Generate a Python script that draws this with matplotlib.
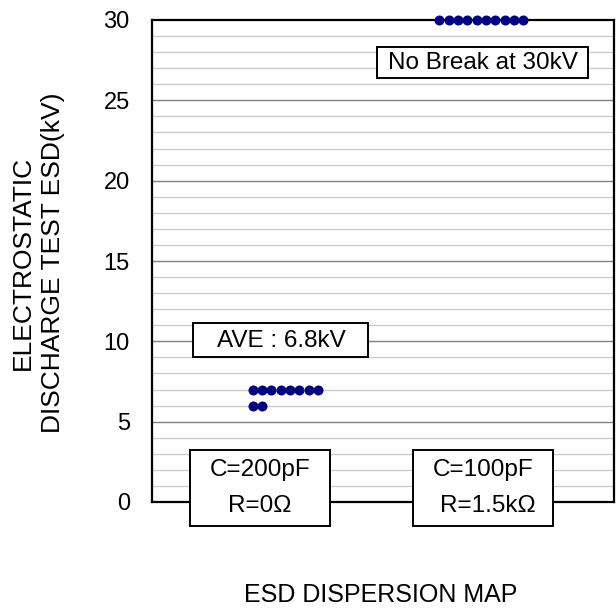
import matplotlib
matplotlib.use("Agg")
import matplotlib.pyplot as plt
from matplotlib.patches import Rectangle
from collections import Counter

plt.rcParams['font.family'] = ['Liberation Sans', 'DejaVu Sans']

# ---- data ----
esd_200pF = [7, 7, 7, 7, 7, 7, 7, 7, 6, 6]       # kV, C=200pF R=0
esd_100pF = [30, 30, 30, 30, 30, 30, 30, 30, 30, 30]  # kV, C=100pF R=1.5k (no break)
y_ticks = [0, 5, 10, 15, 20, 25, 30]
ave_label = "AVE : 6.8kV"
nobreak_label = "No Break at 30kV"
cond_labels = [("C=200pF", "R=0Ω"), ("C=100pF", "R=1.5kΩ")]
ylabel = "ELECTROSTATIC\nDISCHARGE TEST ESD(kV)"
title = "ESD DISPERSION MAP"

W, H = 616, 609
fig = plt.figure(figsize=(W / 100, H / 100), dpi=100)

def fx(px):
    return px / W

def fy(py):
    return 1 - py / H

ax = fig.add_axes([fx(152), fy(502), fx(614) - fx(152), fy(20) - fy(502)])
ax.set_xlim(0, 49.5)
ax.set_ylim(0, 30)

# grid
for v in range(0, 31):
    if v in (0, 30):
        continue
    if v % 5 == 0:
        ax.axhline(v, color='#808080', lw=1.0, zorder=1)
    else:
        ax.axhline(v, color='#cccccc', lw=1.0, zorder=1)

for s in ax.spines.values():
    s.set_color('black')
    s.set_linewidth(1.6)

ax.set_yticks(y_ticks)
ax.set_xticks([])
ax.tick_params(axis='y', length=0, pad=16, labelsize=17)

# dots: stack horizontally for repeated values
def dot_positions(values, start):
    xs, ys = [], []
    counts = Counter()
    for v in sorted(values, reverse=True):
        xs.append(start + counts[v])
        ys.append(v)
        counts[v] += 1
    return xs, ys

for vals, start in [(esd_200pF, 10.8), (esd_100pF, 30.8)]:
    xs, ys = dot_positions(vals, start)
    ax.plot(xs, ys, 'o', color='#000080', markersize=7.2, markeredgewidth=0,
            zorder=5, clip_on=False)

# boxes
def box(x0, y0, x1, y1):
    r = Rectangle((fx(x0), fy(y1)), fx(x1) - fx(x0), fy(y0) - fy(y1),
                  transform=fig.transFigure, facecolor='white',
                  edgecolor='black', lw=1.4, zorder=6)
    fig.add_artist(r)

FS = 17.5
box(193, 323, 368, 357)
fig.text(fx(281), fy(341), ave_label, ha='center', va='center', fontsize=FS, zorder=7)

box(377, 47, 588, 78)
fig.text(fx(483), fy(63), nobreak_label, ha='center', va='center', fontsize=FS, zorder=7)

box(190, 450, 330, 526)
fig.text(fx(260), fy(470), cond_labels[0][0], ha='center', va='center', fontsize=FS, zorder=7)
fig.text(fx(260), fy(506), cond_labels[0][1], ha='center', va='center', fontsize=FS, zorder=7)

box(413, 450, 553, 526)
fig.text(fx(483), fy(470), cond_labels[1][0], ha='center', va='center', fontsize=FS, zorder=7)
fig.text(fx(488), fy(506), cond_labels[1][1], ha='center', va='center', fontsize=FS, zorder=7)

# labels
fig.text(fx(38), fy(263), ylabel, rotation=90, ha='center', va='center',
         fontsize=19, linespacing=1.3, multialignment='center')
fig.text(fx(381), fy(595), title, ha='center', va='center', fontsize=18)

fig.savefig('out.png', dpi=100)
